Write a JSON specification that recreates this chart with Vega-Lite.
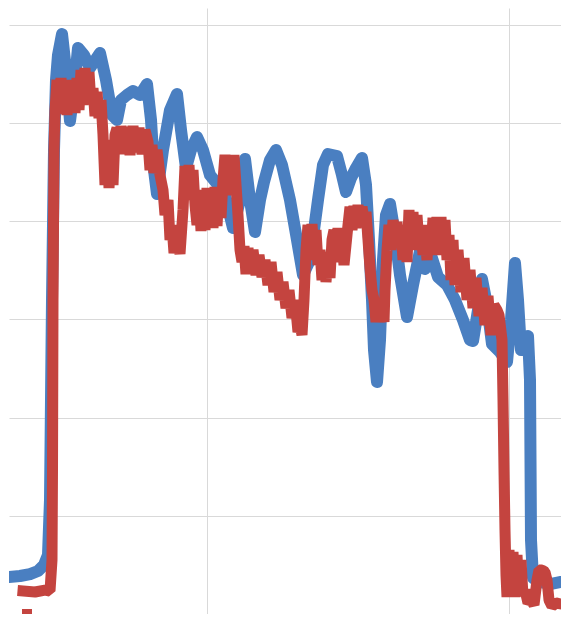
{
  "$schema": "https://vega.github.io/schema/vega-lite/v6.json",
  "width": 552,
  "height": 606,
  "autosize": {"type": "none"},
  "padding": {"left": 9, "top": 8, "right": 0, "bottom": 0},
  "background": "white",
  "config": {
    "view": {"stroke": null},
    "axis": {"labels": false, "ticks": false, "domain": false, "title": null, "gridColor": "#d9d9d9", "gridWidth": 1, "gridOpacity": 1}
  },
  "datasets": {
    "blue": [
      {"x": 0, "v": 3.77}, {"x": 11, "v": 3.87}, {"x": 21, "v": 4.07}, {"x": 29, "v": 4.38}, {"x": 35, "v": 4.99}, {"x": 39, "v": 6.01},
      {"x": 41, "v": 11.61}, {"x": 43, "v": 31.98}, {"x": 45, "v": 47.25}, {"x": 47, "v": 54.38}, {"x": 49, "v": 56.92}, {"x": 53, "v": 59.06},
      {"x": 57, "v": 55.4}, {"x": 61, "v": 50.2}, {"x": 65, "v": 53.36}, {"x": 69, "v": 57.64}, {"x": 75, "v": 56.92}, {"x": 81, "v": 55.6},
      {"x": 85, "v": 56.21}, {"x": 91, "v": 57.13}, {"x": 97, "v": 54.38}, {"x": 103, "v": 50.81}, {"x": 108, "v": 50.31}, {"x": 112, "v": 52.34},
      {"x": 118, "v": 52.85}, {"x": 124, "v": 53.26}, {"x": 131, "v": 52.85}, {"x": 138, "v": 53.97}, {"x": 142, "v": 50.31}, {"x": 145, "v": 45.21},
      {"x": 148, "v": 42.77}, {"x": 154, "v": 47.25}, {"x": 161, "v": 51.32}, {"x": 168, "v": 52.95}, {"x": 172, "v": 49.29}, {"x": 177, "v": 45.42},
      {"x": 182, "v": 47.25}, {"x": 188, "v": 48.57}, {"x": 194, "v": 47.25}, {"x": 201, "v": 44.7}, {"x": 209, "v": 43.69}, {"x": 216, "v": 42.67},
      {"x": 224, "v": 39.31}, {"x": 231, "v": 42.16}, {"x": 236, "v": 46.33}, {"x": 241, "v": 42.16}, {"x": 246, "v": 38.9}, {"x": 251, "v": 42.16},
      {"x": 255, "v": 43.99}, {"x": 261, "v": 46.23}, {"x": 267, "v": 47.25}, {"x": 273, "v": 45.72}, {"x": 281, "v": 42.16}, {"x": 288, "v": 38.09},
      {"x": 294, "v": 34.52}, {"x": 301, "v": 36.05}, {"x": 309, "v": 42.16}, {"x": 314, "v": 45.72}, {"x": 319, "v": 46.84}, {"x": 328, "v": 46.64},
      {"x": 333, "v": 44.7}, {"x": 337, "v": 42.97}, {"x": 342, "v": 44.4}, {"x": 347, "v": 45.42}, {"x": 353, "v": 46.44}, {"x": 357, "v": 43.69},
      {"x": 360, "v": 38.09}, {"x": 363, "v": 31.98}, {"x": 365, "v": 26.88}, {"x": 368, "v": 23.63}, {"x": 371, "v": 27.9}, {"x": 374, "v": 36.05},
      {"x": 377, "v": 40.63}, {"x": 381, "v": 41.75}, {"x": 386, "v": 38.59}, {"x": 391, "v": 34.52}, {"x": 398, "v": 30.24}, {"x": 404, "v": 33.5},
      {"x": 411, "v": 36.97}, {"x": 416, "v": 35.13}, {"x": 423, "v": 36.25}, {"x": 429, "v": 34.32}, {"x": 438, "v": 33.5}, {"x": 446, "v": 31.98},
      {"x": 454, "v": 29.94}, {"x": 461, "v": 27.9}, {"x": 464, "v": 27.8}, {"x": 469, "v": 30.96}, {"x": 473, "v": 34.11}, {"x": 478, "v": 31.47},
      {"x": 483, "v": 27.49}, {"x": 491, "v": 26.68}, {"x": 498, "v": 25.66}, {"x": 502, "v": 29.94}, {"x": 506, "v": 35.74}, {"x": 509, "v": 31.98},
      {"x": 512, "v": 26.88}, {"x": 516, "v": 27.7}, {"x": 519, "v": 28.31}, {"x": 521, "v": 23.83}, {"x": 521.5, "v": 15.68}, {"x": 522, "v": 7.54},
      {"x": 524, "v": 3.67}, {"x": 531, "v": 3.26}, {"x": 541, "v": 3.05}, {"x": 552, "v": 3.26}
    ],
    "red": [
      {"x": 14, "v": 2.34}, {"x": 26, "v": 2.24}, {"x": 36, "v": 2.44}, {"x": 41, "v": 2.34}, {"x": 43, "v": 5.5}, {"x": 43.5, "v": 14.66},
      {"x": 44, "v": 31.98}, {"x": 45, "v": 47.25}, {"x": 46, "v": 51.32}, {"x": 48, "v": 54.38}, {"x": 50, "v": 51.12}, {"x": 52, "v": 54.58},
      {"x": 54, "v": 50.92}, {"x": 56, "v": 54.38}, {"x": 58, "v": 50.81}, {"x": 60, "v": 54.18}, {"x": 62, "v": 51.12}, {"x": 64, "v": 54.38},
      {"x": 66, "v": 51.02}, {"x": 68, "v": 54.58}, {"x": 70, "v": 51.32}, {"x": 72, "v": 55.4}, {"x": 74, "v": 51.83}, {"x": 76, "v": 55.6},
      {"x": 78, "v": 52.34}, {"x": 80, "v": 55.19}, {"x": 82, "v": 51.93}, {"x": 84, "v": 53.56}, {"x": 86, "v": 50.71}, {"x": 88, "v": 53.16},
      {"x": 90, "v": 50.51}, {"x": 92, "v": 52.34}, {"x": 94, "v": 48.78}, {"x": 96, "v": 43.69}, {"x": 98, "v": 48.27}, {"x": 100, "v": 43.38},
      {"x": 102, "v": 47.25}, {"x": 104, "v": 43.69}, {"x": 106, "v": 48.78}, {"x": 108, "v": 49.49}, {"x": 110, "v": 46.84}, {"x": 112, "v": 49.69},
      {"x": 115, "v": 47.05}, {"x": 118, "v": 49.59}, {"x": 121, "v": 46.74}, {"x": 124, "v": 49.69}, {"x": 127, "v": 47.05}, {"x": 130, "v": 49.49},
      {"x": 133, "v": 46.84}, {"x": 136, "v": 49.29}, {"x": 139, "v": 48.07}, {"x": 141, "v": 45.21}, {"x": 143, "v": 47.76}, {"x": 145, "v": 44.91},
      {"x": 148, "v": 47.25}, {"x": 151, "v": 44.7}, {"x": 154, "v": 43.18}, {"x": 156, "v": 40.63}, {"x": 159, "v": 42.16}, {"x": 161, "v": 38.09},
      {"x": 163, "v": 39.61}, {"x": 165, "v": 36.76}, {"x": 168, "v": 39.1}, {"x": 171, "v": 36.66}, {"x": 174, "v": 41.14}, {"x": 176, "v": 45.62},
      {"x": 178, "v": 42.67}, {"x": 180, "v": 45.72}, {"x": 182, "v": 42.16}, {"x": 184, "v": 45.21}, {"x": 186, "v": 41.65}, {"x": 188, "v": 39.61},
      {"x": 190, "v": 42.97}, {"x": 192, "v": 39.0}, {"x": 194, "v": 43.18}, {"x": 196, "v": 39.1}, {"x": 198, "v": 43.38}, {"x": 200, "v": 39.61},
      {"x": 202, "v": 43.28}, {"x": 204, "v": 39.31}, {"x": 206, "v": 43.48}, {"x": 208, "v": 39.51}, {"x": 210, "v": 43.18}, {"x": 212, "v": 40.33},
      {"x": 214, "v": 44.2}, {"x": 216, "v": 46.74}, {"x": 219, "v": 42.67}, {"x": 221, "v": 46.74}, {"x": 223, "v": 43.18}, {"x": 225, "v": 46.74},
      {"x": 227, "v": 43.69}, {"x": 229, "v": 40.63}, {"x": 231, "v": 37.07}, {"x": 233, "v": 35.85}, {"x": 235, "v": 37.47}, {"x": 237, "v": 34.62},
      {"x": 239, "v": 37.27}, {"x": 241, "v": 34.83}, {"x": 244, "v": 37.07}, {"x": 247, "v": 34.52}, {"x": 250, "v": 36.56}, {"x": 253, "v": 34.32},
      {"x": 256, "v": 36.05}, {"x": 259, "v": 33.5}, {"x": 262, "v": 35.85}, {"x": 265, "v": 32.79}, {"x": 268, "v": 34.83}, {"x": 271, "v": 31.98},
      {"x": 274, "v": 33.81}, {"x": 277, "v": 31.16}, {"x": 280, "v": 32.99}, {"x": 283, "v": 30.14}, {"x": 286, "v": 31.98}, {"x": 289, "v": 28.72},
      {"x": 291, "v": 29.43}, {"x": 293, "v": 28.41}, {"x": 295, "v": 31.98}, {"x": 297, "v": 37.07}, {"x": 299, "v": 39.61}, {"x": 301, "v": 36.05},
      {"x": 303, "v": 39.71}, {"x": 305, "v": 36.56}, {"x": 307, "v": 39.1}, {"x": 309, "v": 35.54}, {"x": 311, "v": 37.07}, {"x": 313, "v": 34.01},
      {"x": 315, "v": 36.86}, {"x": 317, "v": 33.81}, {"x": 319, "v": 36.56}, {"x": 321, "v": 34.22}, {"x": 323, "v": 38.09}, {"x": 325, "v": 39.1},
      {"x": 327, "v": 36.05}, {"x": 329, "v": 39.31}, {"x": 331, "v": 35.85}, {"x": 333, "v": 38.09}, {"x": 335, "v": 35.54}, {"x": 337, "v": 37.58},
      {"x": 339, "v": 39.61}, {"x": 341, "v": 41.45}, {"x": 343, "v": 39.1}, {"x": 345, "v": 41.55}, {"x": 347, "v": 39.31}, {"x": 349, "v": 41.65},
      {"x": 351, "v": 39.61}, {"x": 353, "v": 41.45}, {"x": 355, "v": 40.12}, {"x": 357, "v": 40.94}, {"x": 359, "v": 38.09}, {"x": 361, "v": 35.23},
      {"x": 363, "v": 32.99}, {"x": 365, "v": 31.98}, {"x": 367, "v": 29.74}, {"x": 369, "v": 31.47}, {"x": 371, "v": 29.74}, {"x": 373, "v": 30.96},
      {"x": 375, "v": 29.74}, {"x": 376, "v": 32.99}, {"x": 378, "v": 37.07}, {"x": 380, "v": 39.61}, {"x": 382, "v": 37.07}, {"x": 384, "v": 40.12},
      {"x": 386, "v": 37.58}, {"x": 388, "v": 39.92}, {"x": 390, "v": 37.58}, {"x": 392, "v": 39.1}, {"x": 394, "v": 36.05}, {"x": 396, "v": 39.61},
      {"x": 398, "v": 35.85}, {"x": 400, "v": 41.14}, {"x": 402, "v": 37.07}, {"x": 404, "v": 40.94}, {"x": 406, "v": 37.07}, {"x": 408, "v": 40.63},
      {"x": 410, "v": 37.58}, {"x": 412, "v": 39.61}, {"x": 414, "v": 36.56}, {"x": 416, "v": 38.59}, {"x": 418, "v": 36.05}, {"x": 420, "v": 39.61},
      {"x": 422, "v": 37.07}, {"x": 424, "v": 40.33}, {"x": 426, "v": 36.56}, {"x": 428, "v": 40.43}, {"x": 430, "v": 37.07}, {"x": 432, "v": 40.43},
      {"x": 434, "v": 36.56}, {"x": 436, "v": 40.12}, {"x": 438, "v": 36.05}, {"x": 440, "v": 38.59}, {"x": 442, "v": 34.01}, {"x": 444, "v": 38.09},
      {"x": 446, "v": 33.5}, {"x": 449, "v": 37.07}, {"x": 452, "v": 32.79}, {"x": 455, "v": 36.25}, {"x": 458, "v": 31.98}, {"x": 461, "v": 35.03},
      {"x": 464, "v": 31.16}, {"x": 467, "v": 34.22}, {"x": 470, "v": 30.35}, {"x": 473, "v": 33.2}, {"x": 476, "v": 29.43}, {"x": 479, "v": 32.38},
      {"x": 482, "v": 28.41}, {"x": 485, "v": 31.47}, {"x": 488, "v": 30.96}, {"x": 490, "v": 30.45}, {"x": 493, "v": 27.9}, {"x": 494, "v": 21.79},
      {"x": 495, "v": 14.66}, {"x": 496, "v": 8.55}, {"x": 497, "v": 3.97}, {"x": 498, "v": 1.73}, {"x": 500, "v": 6.52}, {"x": 502, "v": 1.73},
      {"x": 504, "v": 6.31}, {"x": 506, "v": 1.73}, {"x": 508, "v": 6.01}, {"x": 510, "v": 1.83}, {"x": 512, "v": 5.5}, {"x": 514, "v": 1.83},
      {"x": 516, "v": 2.44}, {"x": 519, "v": 1.12}, {"x": 522, "v": 1.43}, {"x": 525, "v": 0.92}, {"x": 528, "v": 3.46}, {"x": 530, "v": 4.48},
      {"x": 533, "v": 4.48}, {"x": 536, "v": 4.28}, {"x": 538, "v": 3.46}, {"x": 540, "v": 1.43}, {"x": 543, "v": 0.81}, {"x": 547, "v": 1.12},
      {"x": 552, "v": 1.02}
    ],
    "redpt": [{"x": 18, "v": 0}]
  },
  "layer": [
    {
      "data": {"name": "blue"},
      "mark": {"type": "line", "color": "#4A7FC1", "strokeWidth": 12, "strokeCap": "round", "strokeJoin": "round", "clip": true},
      "encoding": {
        "x": {"field": "x", "type": "quantitative", "scale": {"domain": [0, 552], "nice": false, "zero": false}, "axis": {"values": [198, 500], "grid": true}},
        "y": {"field": "v", "type": "quantitative", "scale": {"domain": [0, 61.71], "nice": false}, "axis": {"values": [0, 10, 20, 30, 40, 50, 60], "grid": true}}
      }
    },
    {
      "data": {"name": "red"},
      "mark": {"type": "line", "color": "#C4443F", "strokeWidth": 11, "strokeCap": "square", "strokeJoin": "bevel", "clip": true},
      "encoding": {
        "x": {"field": "x", "type": "quantitative"},
        "y": {"field": "v", "type": "quantitative"}
      }
    },
    {
      "data": {"name": "redpt"},
      "mark": {"type": "point", "shape": "square", "filled": true, "size": 100, "color": "#C4443F", "opacity": 1, "clip": false},
      "encoding": {
        "x": {"field": "x", "type": "quantitative"},
        "y": {"field": "v", "type": "quantitative"}
      }
    }
  ]
}
